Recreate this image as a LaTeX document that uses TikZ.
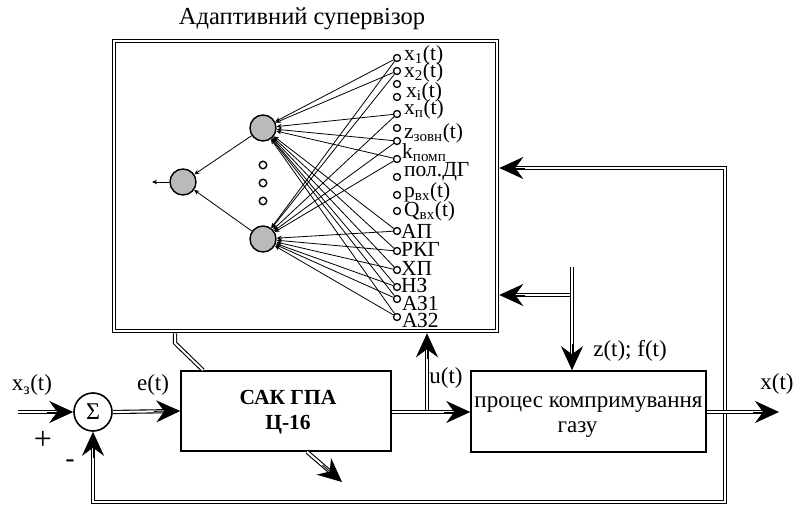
\documentclass[tikz,border=0pt]{standalone}
\usepackage{fontspec}
\setmainfont{Liberation Serif}
\usetikzlibrary{arrows.meta,calc}
\newcommand\dblarrow[2]{\draw[dbl,shorten >=12pt] (#1) -- (#2); \draw[bigtip] ($(#2)!26pt!(#1)$) -- (#2);}
\begin{document}
\begin{tikzpicture}[x=1pt,y=-1pt,
  dbl/.style={draw=black, line width=1.1pt, double=white, double distance=2pt},
  bigtip/.style={-{Stealth[length=24pt,width=22pt,inset=8pt]}, line width=0.8pt},
  neuron/.style={circle, draw, line width=1.4pt, fill=black!27, minimum size=26pt, inner sep=0pt},
  pin/.style={circle, draw, line width=1.3pt, minimum size=7pt, inner sep=0pt, fill=white},
  smalldot/.style={circle, draw, line width=1.4pt, minimum size=7.5pt, inner sep=0pt},
  nn/.style={-{Stealth[length=5pt,width=4.5pt]}, line width=0.8pt, draw=black},
  lbl/.style={font=\fontsize{21.5}{22}\selectfont, inner sep=0pt, anchor=west},
  txt/.style={font=\fontsize{23}{25}\selectfont, inner sep=0pt, align=center},
  blk/.style={draw, line width=1.6pt, inner sep=0pt},
]
\useasboundingbox (0,0) rectangle (804,508);

% supervisor frame
\node[draw, line width=1.3pt, double=white, double distance=2pt, outer sep=2.3pt,
      minimum width=383pt, minimum height=290pt, inner sep=0pt] (sup) at (305.5,186) {};
\node[font=\fontsize{24.5}{25}\selectfont, inner sep=0pt] (title) at (302,19) {Адаптивний супервізор};

% neurons
\node[neuron] (h1) at (263,128) {};
\node[neuron] (h2) at (263,239) {};
\node[neuron] (o) at (183,182) {};
\coordinate (oout) at (152,182);
\node[smalldot] (d1) at (263,165) {};
\node[smalldot] (d2) at (263,183) {};
\node[smalldot] (d3) at (263,201) {};

% input pins
\foreach \n/\yy in {1/58,2/71,3/84,4/97,5/114,6/128,7/141,8/159,9/177,10/195,11/211,12/231,13/251,14/270,15/287,16/299,17/317}
  \node[pin] (i\n) at (397,\yy) {};

% connections
\foreach \n in {1,2,5,7,8,12,13,14,15,16,17} {
  \draw[nn] (i\n) -- (h1);
  \draw[nn] (i\n) -- (h2);
}
\draw[nn] (h1) -- (o);
\draw[nn] (h2) -- (o);
\draw[nn] (o) -- (oout);

% input labels
\node[lbl] (l1) at (404,55) {x\textsubscript{1}(t)};
\node[lbl] (l2) at (404,72) {x\textsubscript{2}(t)};
\node[lbl] (l3) at (406,92) {x\textsubscript{i}(t)};
\node[lbl] (l4) at (404,109) {x\textsubscript{п}(t)};
\node[lbl] (l5) at (404,133) {z\textsubscript{зовн}(t)};
\node[lbl] (l6) at (402,153) {k\textsubscript{помп}};
\node[lbl] (l7) at (404,172) {пол.ДГ};
\node[lbl] (l8) at (404,192) {p\textsubscript{вх}(t)};
\node[lbl] (l9) at (404,211) {Q\textsubscript{вх}(t)};
\node[lbl] (l10) at (401,231) {АП};
\node[lbl] (l11) at (401,249) {РКГ};
\node[lbl] (l12) at (401,268) {ХП};
\node[lbl] (l13) at (401,285) {НЗ};
\node[lbl] (l14) at (402,303) {АЗ1};
\node[lbl] (l15) at (402,320) {АЗ2};

% lower blocks
\node[circle, draw, line width=1.6pt, minimum size=38pt, inner sep=0pt, font=\fontsize{24}{24}\selectfont] (sum) at (93,412) {Σ};
\node[blk, minimum width=210pt, minimum height=80pt] (sak) at (286,411) {};
\node[txt, font=\bfseries\fontsize{21.5}{25}\selectfont] (saktxt) at (288,412) {САК ГПА\\Ц-16};
\node[blk, minimum width=235pt, minimum height=81pt] (proc) at (588.5,411.5) {};
\node[txt] (proctxt) at (588.5,417) {процес компримування\\\hspace*{-22pt}газу};

\coordinate (xin) at (18,412);
\coordinate (uj) at (427,412);
\coordinate (usup) at (uj |- sup.south);
\coordinate (ztop) at (572,267);
\coordinate (zj) at (572,295);
\coordinate (zend) at (ztop |- proc.north);
\coordinate (zsup) at (sup.east |- zj);
\coordinate (xout) at (779,412);
\coordinate (fbt) at (725,168);
\coordinate (fbb) at (725,502);
\coordinate (fbl) at (93,502);
\coordinate (supfb) at (sup.east |- fbt);
\coordinate (saks) at ([xshift=21pt]sak.south);
\coordinate (sakout) at (342,482);
\coordinate (diag0) at ([xshift=-130.5pt]sup.south);
\coordinate (diag1) at (175,343);
\coordinate (diag2) at ([xshift=-83pt]sak.north);

% connectors
\dblarrow{xin}{sum.west}
\dblarrow{sum.east}{sak.west}
\draw[dbl] (diag0) -- (diag1) -- (diag2);
\dblarrow{saks}{sakout}
\dblarrow{uj}{usup}
\dblarrow{sak.east |- uj}{proc.west |- uj}
\dblarrow{zj}{zsup}
\dblarrow{ztop}{zend}
\draw[dbl, shorten <=12pt, shorten >=12pt] (supfb) -- (fbt) -- (fbb) -- (fbl) -- (sum.south);
\draw[bigtip] ($(supfb)!26pt!(fbt)$) -- (supfb);
\draw[bigtip] ($(sum.south)!26pt!(fbl)$) -- (sum.south);
\dblarrow{proc.east |- uj}{xout}

% labels
\node[txt] (lxz) at (32,385) {x\textsubscript{з}(t)};
\node[txt, font=\fontsize{32}{32}\selectfont] (lplus) at (43,440) {+};
\node[txt, font=\fontsize{28}{28}\selectfont] (lminus) at (70,464) {-};
\node[txt] (le) at (153,385) {e(t)};
\node[txt] (lu) at (446,378) {u(t)};
\node[txt] (lz) at (630,351) {z(t); f(t)};
\node[txt] (lx) at (777,384) {x(t)};
\end{tikzpicture}
\end{document}
